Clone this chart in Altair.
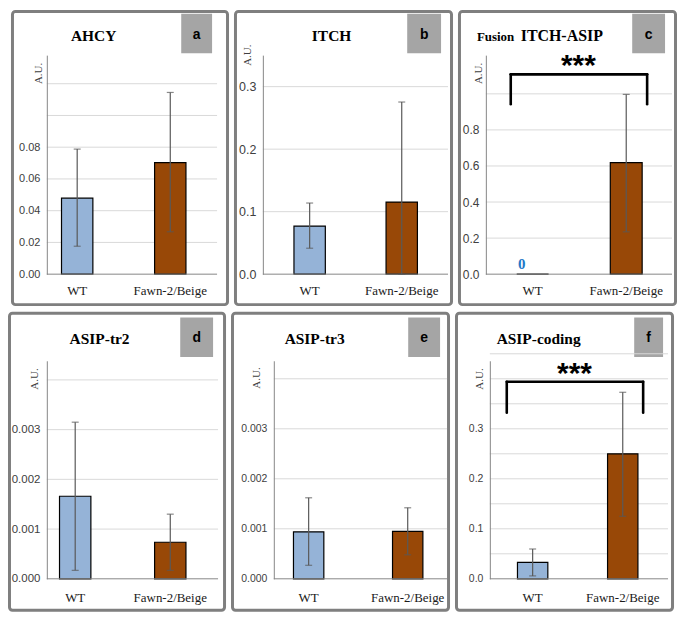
import altair as alt
import pandas as pd

# ---------------- data ----------------
groups = ["WT", "Fawn-2/Beige"]
bar_colors = ["#95b3d7", "#984807"]

letters = ["a", "b", "c", "d", "e", "f"]
titles = ["AHCY", "ITCH", "ITCH-ASIP", "ASIP-tr2", "ASIP-tr3", "ASIP-coding"]
fusion_prefix = "Fusion"
unit_label = "A.U."
zero_note = "0"
signif = "***"

# a  AHCY
ahcy_mean = [0.0479, 0.0703]
ahcy_low = [0.0176, 0.0267]
ahcy_high = [0.0788, 0.1145]
ahcy_ticks = [0.0, 0.02, 0.04, 0.06, 0.08]
ahcy_grid = [0.02, 0.04, 0.06, 0.08, 0.10, 0.12]

# b  ITCH
itch_mean = [0.0769, 0.1154]
itch_low = [0.0415, 0.0]
itch_high = [0.1138, 0.2754]
itch_ticks = [0.0, 0.1, 0.2, 0.3]
itch_grid = [0.1, 0.2, 0.3]

# c  Fusion ITCH-ASIP
fusion_mean = [0.0, 0.6187]
fusion_low = [None, 0.2347]
fusion_high = [None, 0.997]
fusion_ticks = [0.0, 0.2, 0.4, 0.6, 0.8]
fusion_grid = [0.2, 0.4, 0.6, 0.8, 1.0]
fusion_bracket = [1.108, 0.942]   # top, leg end

# d  ASIP-tr2
tr2_mean = [0.00166, 0.000735]
tr2_low = [0.00017, 0.00017]
tr2_high = [0.00315, 0.0013]
tr2_ticks = [0.0, 0.001, 0.002, 0.003]
tr2_grid = [0.001, 0.002, 0.003, 0.004]

# e  ASIP-tr3
tr3_mean = [0.00094, 0.00095]
tr3_low = [0.00027, 0.00048]
tr3_high = [0.00162, 0.00142]
tr3_ticks = [0.0, 0.001, 0.002, 0.003]
tr3_grid = [0.001, 0.002, 0.003, 0.004]

# f  ASIP-coding
coding_mean = [0.0327, 0.25]
coding_low = [0.0058, 0.125]
coding_high = [0.0596, 0.373]
coding_ticks = [0.0, 0.1, 0.2, 0.3]
coding_grid = [0.05, 0.10, 0.15, 0.20, 0.25, 0.30, 0.35, 0.40, 0.45]
coding_bracket = [0.394, 0.332]

# ---------------- layout / style ----------------
SERIF = "Liberation Serif"
SANS = "Liberation Sans"
ONE = alt.Data(values=[{"k": 1}])

row1 = dict(H=220, border_y=(-43.9, 250.6), box_y=(-41.5, -1.9), title_base=-14.2, xpad=16.4)
row2 = dict(H=219, border_y=(-47.8, 250.6), box_y=(-43.5, -3.9), title_base=-16.8, xpad=18.4)

layouts = [
    dict(row=row1, W=171, ymax=0.1380, fmt=".2f", lfs=11, bars=(30.5, 124, 31.5),
         border_x=(-34.5, 181.5), box_x=(135, 166), title_x=47, au=(-8, 18.4)),
    dict(row=row1, W=186, ymax=0.3504, fmt=".1f", lfs=12.5, bars=(47, 139.5, 31.5),
         border_x=(-27.5, 189.5), box_x=(145, 179), title_x=69, au=(-15, 0)),
    dict(row=row1, W=187, ymax=1.2146, fmt=".1f", lfs=12, bars=(47, 141, 32),
         border_x=(-26.5, 190.5), box_x=(147, 180), title_x=35, au=(-7, 18.4)),
    dict(row=row2, W=172, ymax=0.004385, fmt=".3f", lfs=11.5, bars=(28.5, 124, 31.5),
         border_x=(-37.5, 178.5), box_x=(134, 167), title_x=53, au=(-12, 18.3)),
    dict(row=row2, W=174, ymax=0.004360, fmt=".3f", lfs=10.5, bars=(35, 134.5, 30.5),
         border_x=(-41.5, 175.5), box_x=(135, 167), title_x=41, au=(-17, 17.3)),
    dict(row=row2, W=179, ymax=0.4360, fmt=".1f", lfs=10.5, bars=(43, 133.5, 30.5),
         border_x=(-33.5, 183.5), box_x=(145, 174), title_x=49, au=(-10, 18.3)),
]


def panel(i, mean, low, high, ticks, grid, bracket=None):
    L = layouts[i]
    R = L["row"]
    W, H = L["W"], R["H"]
    c1, c2, bw = L["bars"]
    step = c2 - c1
    outer = W - step - bw
    xs = alt.Scale(domain=groups, paddingInner=1 - bw / step,
                   paddingOuter=outer / (2 * step), align=(c1 - bw / 2) / outer)
    ys = alt.Scale(domain=[0, L["ymax"]], nice=False, zero=True)

    xaxis = alt.Axis(title=None, labelAngle=0, domain=False, ticks=False, tickSize=0,
                     grid=False, labelPadding=R["xpad"], labelBaseline="middle",
                     labelFont=SERIF, labelFontSize=13, labelColor="#1a1a1a", zindex=1)
    yaxis = alt.Axis(title=None, values=ticks, format=L["fmt"], grid=False, ticks=False,
                     tickSize=0, domain=True, domainColor="#868686", domainWidth=1,
                     labelPadding=7, labelFont=SANS, labelFontSize=L["lfs"],
                     labelColor="#404040", labelFlush=False, zindex=1)

    def X():
        return alt.X("group:N", scale=xs, sort=groups, axis=xaxis)

    def Y(field):
        return alt.Y(field, scale=ys, axis=yaxis)

    bx0, bx1 = L["border_x"]
    by0, by1 = R["border_y"]
    border = alt.Chart(ONE).mark_rect(fill="white", fillOpacity=0, stroke="#7f7f7f",
                                      strokeWidth=3, cornerRadius=3).encode(
        x=alt.value(bx0), x2=alt.value(bx1), y=alt.value(by0), y2=alt.value(by1))

    kx0, kx1 = L["box_x"]
    ky0, ky1 = R["box_y"]
    box = alt.Chart(ONE).mark_rect(color="#a5a5a5").encode(
        x=alt.value(kx0), x2=alt.value(kx1), y=alt.value(ky0), y2=alt.value(ky1))
    letter = alt.Chart(ONE).mark_text(text=letters[i], font=SANS, fontWeight="bold",
                                      fontSize=14, align="center", baseline="middle",
                                      color="black").encode(
        x=alt.value((kx0 + kx1) / 2), y=alt.value((ky0 + ky1) / 2 + 1))

    layers = [border, box, letter]

    if i == 2:
        layers.append(alt.Chart(ONE).mark_text(text=fusion_prefix, font=SERIF, fontWeight="bold",
                                               fontSize=13, align="left", baseline="alphabetic",
                                               color="black").encode(
            x=alt.value(-9), y=alt.value(R["title_base"])))
        layers.append(alt.Chart(ONE).mark_text(text=titles[i], font=SERIF, fontWeight="bold",
                                               fontSize=16, align="left", baseline="alphabetic",
                                               color="black").encode(
            x=alt.value(L["title_x"]), y=alt.value(R["title_base"])))
    else:
        layers.append(alt.Chart(ONE).mark_text(text=titles[i], font=SERIF, fontWeight="bold",
                                               fontSize=15.5, align="center", baseline="alphabetic",
                                               color="black").encode(
            x=alt.value(L["title_x"]), y=alt.value(R["title_base"])))

    ax, ay = L["au"]
    layers.append(alt.Chart(ONE).mark_text(text=unit_label, font=SERIF, fontSize=11, angle=270,
                                           align="center", baseline="middle",
                                           color="#404040").encode(
        x=alt.value(ax), y=alt.value(ay)))

    gridlines = alt.Chart(pd.DataFrame({"v": grid})).mark_rule(
        color="#d9d9d9", strokeWidth=1).encode(
        y=Y("v:Q"), x=alt.value(0), x2=alt.value(W))
    layers.append(gridlines)

    bars_df = pd.DataFrame({"group": groups, "mean": mean})
    bars = alt.Chart(bars_df).mark_bar(stroke="black", strokeWidth=1.2).encode(
        x=X(),
        y=Y("mean:Q"),
        color=alt.Color("group:N", scale=alt.Scale(domain=groups, range=bar_colors),
                        legend=None))
    layers.append(bars)

    base = alt.Chart(pd.DataFrame({"v": [0.0]})).mark_rule(
        color="#868686", strokeWidth=1).encode(
        y=Y("v:Q"), x=alt.value(0), x2=alt.value(W))
    layers.append(base)

    err_df = pd.DataFrame({"group": groups, "low": low, "high": high}).dropna()
    layers.append(alt.Chart(err_df).mark_rule(color="#595959", strokeWidth=1.2).encode(
        x=X(), y=Y("low:Q"), y2="high:Q"))
    for col in ["low", "high"]:
        layers.append(alt.Chart(err_df).mark_tick(color="#595959", thickness=1.2, size=7,
                                                  orient="horizontal").encode(
            x=X(), y=Y(f"{col}:Q")))

    if i == 2:
        zdf = pd.DataFrame({"group": [groups[0]], "v": [fusion_mean[0]]})
        layers.append(alt.Chart(zdf).mark_text(text=zero_note, font=SERIF, fontWeight="bold",
                                               fontSize=15, color="#1f78c8", align="center",
                                               baseline="middle", dx=-11, dy=-10.6).encode(
            x=X(), y=Y("v:Q")))

    if bracket is not None:
        top, leg = bracket
        bx_a, bx_b, sx, sy = (25, 162, 93, 19.5) if i == 2 else (17, 154, 85, 22.5)
        bdf = pd.DataFrame({"top": [top], "leg": [leg]})
        rule = dict(color="black", strokeWidth=2.6, strokeCap="round")
        layers.append(alt.Chart(bdf).mark_rule(**rule).encode(
            y=Y("top:Q"), x=alt.value(bx_a), x2=alt.value(bx_b)))
        for xv in (bx_a, bx_b):
            layers.append(alt.Chart(bdf).mark_rule(**rule).encode(
                y=Y("top:Q"), y2="leg:Q", x=alt.value(xv)))
        layers.append(alt.Chart(ONE).mark_text(text=signif, font=SANS, fontWeight="bold",
                                               fontSize=30, align="center",
                                               baseline="alphabetic", color="black").encode(
            x=alt.value(sx), y=alt.value(sy)))

    return alt.layer(*layers).properties(width=W, height=H)


pa = panel(0, ahcy_mean, ahcy_low, ahcy_high, ahcy_ticks, ahcy_grid)
pb = panel(1, itch_mean, itch_low, itch_high, itch_ticks, itch_grid)
pc = panel(2, fusion_mean, fusion_low, fusion_high, fusion_ticks, fusion_grid, fusion_bracket)
pd_ = panel(3, tr2_mean, tr2_low, tr2_high, tr2_ticks, tr2_grid)
pe = panel(4, tr3_mean, tr3_low, tr3_high, tr3_ticks, tr3_grid)
pf = panel(5, coding_mean, coding_low, coding_high, coding_ticks, coding_grid, coding_bracket)

top_row = alt.hconcat(pa, pb, pc, spacing=5)
bottom_row = alt.hconcat(pd_, pe, pf, spacing=5)

chart = alt.vconcat(top_row, bottom_row, spacing=4).properties(
    padding=0, background="white"
).configure_view(strokeWidth=0)

chart.save("out.html", embed_options={"renderer": "svg", "actions": False})
